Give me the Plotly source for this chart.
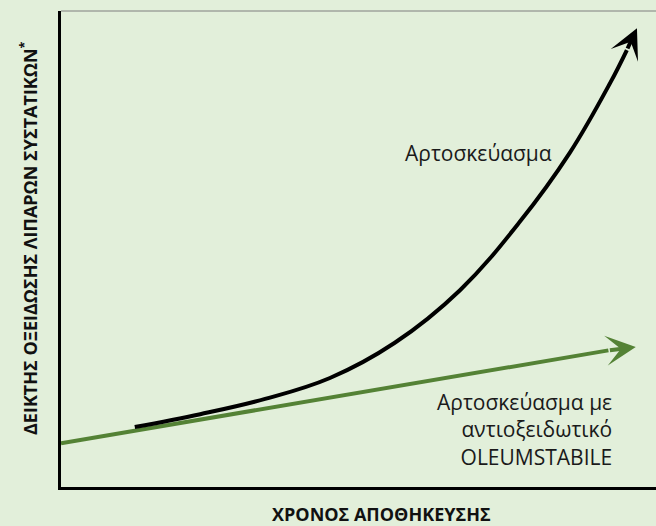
import plotly.graph_objects as go

# Qualitative curves (time units 0..10, index units 0..10)
plain_x = [1.24, 2.34, 3.43, 4.52, 5.61, 6.71, 7.71, 8.55, 9.23, 9.51]
plain_y = [1.26, 1.53, 1.85, 2.29, 3.03, 4.14, 5.57, 7.02, 8.49, 9.18]
plain_tip = (9.68, 9.64)

anti_x = [0.0, 9.2]
anti_y = [0.92, 2.87]
anti_tip = (9.66, 2.94)

label_plain = "Αρτοσκεύασμα"
label_anti = "Αρτοσκεύασμα με<br>αντιοξειδωτικό<br>OLEUMSTABILE"
x_title = "<b>ΧΡΟΝΟΣ ΑΠΟΘΗΚΕΥΣΗΣ</b>"
y_title = "<b>ΔΕΙΚΤΗΣ ΟΞΕΙΔΩΣΗΣ ΛΙΠΑΡΩΝ ΣΥΣΤΑΤΙΚΩΝ<sup>*</sup></b>"

BG = "#e2efda"
GREEN = "#548235"
FONT = "Open Sans"

fig = go.Figure()
fig.add_trace(go.Scatter(x=anti_x, y=anti_y, mode="lines",
                         line=dict(color=GREEN, width=4), hoverinfo="skip"))
fig.add_trace(go.Scatter(x=plain_x, y=plain_y, mode="lines",
                         line=dict(color="black", width=4, shape="spline", smoothing=1.1),
                         hoverinfo="skip"))

# arrow heads
fig.add_annotation(x=anti_tip[0], y=anti_tip[1], ax=anti_x[-1], ay=anti_y[-1],
                   xref="x", yref="y", axref="x", ayref="y", text="",
                   showarrow=True, arrowhead=3, arrowsize=1.25, arrowwidth=4, arrowcolor=GREEN)
fig.add_annotation(x=plain_tip[0], y=plain_tip[1], ax=plain_x[-1], ay=plain_y[-1],
                   xref="x", yref="y", axref="x", ayref="y", text="",
                   showarrow=True, arrowhead=3, arrowsize=1.25, arrowwidth=4, arrowcolor="black")

# labels
fig.add_annotation(x=7.01, y=7.02, xref="x", yref="y", text=label_plain, showarrow=False,
                   font=dict(family=FONT, size=21, color="#1a1a1a"))
fig.add_annotation(x=9.30, y=1.2, xref="x", yref="y", text=label_anti, showarrow=False,
                   xanchor="right", align="right",
                   font=dict(family=FONT, size=21, color="#1a1a1a"))

# axis titles
fig.add_annotation(x=(381 - 61) / 595, y=-(514 - 487) / 476, xref="paper", yref="paper",
                   text=x_title, showarrow=False, xanchor="center", yanchor="middle",
                   font=dict(family=FONT, size=18, color="#111111"))
fig.add_annotation(x=-(61 - 29) / 595, y=(487 - 238) / 476, xref="paper", yref="paper",
                   text=y_title, showarrow=False, textangle=-90, xanchor="center",
                   yanchor="middle", font=dict(family=FONT, size=18, color="#111111"))

# top border (gray)
fig.add_shape(type="line", xref="paper", yref="paper", x0=0, x1=1, y0=1, y1=1,
              line=dict(color="#7f7f7f", width=1))

fig.update_xaxes(range=[0, 10], showgrid=False, zeroline=False, showticklabels=False,
                 ticks="", showline=True, linecolor="black", linewidth=3)
fig.update_yaxes(range=[0, 10], showgrid=False, zeroline=False, showticklabels=False,
                 ticks="", showline=True, linecolor="black", linewidth=3)

fig.update_layout(width=656, height=526,
                  margin=dict(l=61, r=0, t=11, b=39, autoexpand=False),
                  paper_bgcolor=BG, plot_bgcolor=BG, showlegend=False,
                  font=dict(family=FONT))

fig.write_html(
    "out.html",
    config={"displayModeBar": False},
    post_script="document.body.style.margin='0';document.body.style.overflow='hidden';"
                "document.body.style.background='" + BG + "';",
)
